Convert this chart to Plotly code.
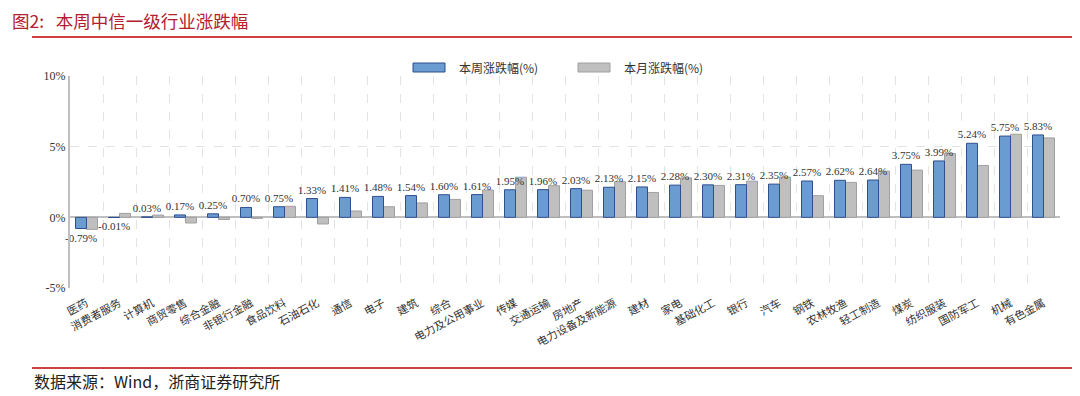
import plotly.graph_objects as go

categories = ["医药", "消费者服务", "计算机", "商贸零售", "综合金融", "非银行金融", "食品饮料", "石油石化",
              "通信", "电子", "建筑", "综合", "电力及公用事业", "传媒", "交通运输", "房地产",
              "电力设备及新能源", "建材", "家电", "基础化工", "银行", "汽车", "钢铁", "农林牧渔",
              "轻工制造", "煤炭", "纺织服装", "国防军工", "机械", "有色金属"]
weekly = [-0.79, -0.01, 0.03, 0.17, 0.25, 0.70, 0.75, 1.33, 1.41, 1.48, 1.54, 1.60, 1.61, 1.95, 1.96,
          2.03, 2.13, 2.15, 2.28, 2.30, 2.31, 2.35, 2.57, 2.62, 2.64, 3.75, 3.99, 5.24, 5.75, 5.83]
monthly = [-0.85, 0.28, 0.16, -0.40, -0.15, -0.07, 0.78, -0.47, 0.45, 0.75, 1.02, 1.27, 1.93, 2.84, 2.24,
           1.92, 2.52, 1.76, 2.79, 2.26, 2.56, 2.85, 1.53, 2.47, 3.27, 3.34, 4.52, 3.67, 5.88, 5.62]
series_names = ["本周涨跌幅(%)", "本月涨跌幅(%)"]
y_ticks = [-5, 0, 5, 10]
title_text = "图2:\u00a0\u00a0\u00a0本周中信一级行业涨跌幅"
source_text = "数据来源：Wind，浙商证券研究所"

CJK = "Noto Sans CJK SC"
SERIF = "Liberation Serif"
BLUE, BLUE_LINE = "#6A9BD1", "#2F4F8F"
GREY, GREY_LINE = "#BFBFBF", "#A0A0A0"

# the page adds an 8px body margin; work in page pixels and convert
OFF = 8
W, H = 1080 - OFF, 396 - OFF
PL, PT, PR, PB = 70, 76, 1060, 288          # plot area in page pixels
L, T = PL - OFF, PT - OFF
R, B = W - (PR - OFF), H - (PB - OFF)
pw, ph = PR - PL, PB - PT


def px_x(x):
    return (x - PL) / pw


def px_y(y):
    return (PB - y) / ph


fig = go.Figure()
# grey drawn first so that weekly labels stay on top
fig.add_trace(go.Bar(
    x=categories, y=monthly, name=series_names[1], showlegend=False,
    width=1/3, offset=0,
    marker=dict(color=GREY, line=dict(color=GREY_LINE, width=1)),
))
fig.add_trace(go.Bar(
    x=categories, y=weekly, name=series_names[0], showlegend=False,
    width=1/3, offset=-1/3,
    marker=dict(color=BLUE, line=dict(color=BLUE_LINE, width=1)),
    text=[f"{v:.2f}%" for v in weekly], textposition="outside",
    textfont=dict(family=SERIF, size=11, color="#333333"),
    constraintext="none", cliponaxis=False,
))

annotations = [
    dict(x=px_x(10), y=px_y(21), xref="paper", yref="paper", text=title_text, showarrow=False,
         xanchor="left", yanchor="middle", font=dict(family=CJK, size=17.5, color="#B22030")),
    dict(x=px_x(32), y=px_y(381), xref="paper", yref="paper", text=source_text, showarrow=False,
         xanchor="left", yanchor="middle", font=dict(family=CJK, size=16, color="#222222")),
]
shapes = [
    dict(type="line", xref="paper", yref="paper", x0=px_x(32), x1=px_x(1080), y0=px_y(37), y1=px_y(37),
         line=dict(color="#C00000", width=1.5)),
    dict(type="line", xref="paper", yref="paper", x0=px_x(32), x1=px_x(1080), y0=px_y(368), y1=px_y(368),
         line=dict(color="#C00000", width=1.5)),
]
# legend drawn as wide swatches like the original
legend_items = [(series_names[0], BLUE, BLUE_LINE, 413), (series_names[1], GREY, GREY_LINE, 578)]
for name, fill, edge, x0 in legend_items:
    shapes.append(dict(type="rect", xref="paper", yref="paper",
                       x0=px_x(x0), x1=px_x(x0 + 32), y0=px_y(72), y1=px_y(63),
                       fillcolor=fill, line=dict(color=edge, width=1)))
    annotations.append(dict(x=px_x(x0 + 44), y=px_y(67.5), xref="paper", yref="paper", text=name,
                            showarrow=False, xanchor="left", yanchor="middle",
                            font=dict(family=CJK, size=12, color="#333333")))

fig.update_layout(
    width=W, height=H,
    margin=dict(l=L, r=R, t=T, b=B),
    paper_bgcolor="white", plot_bgcolor="white",
    barmode="overlay",
    showlegend=False,
    annotations=annotations,
    shapes=shapes,
)
fig.update_xaxes(
    type="category", tickson="boundaries", showgrid=True, griddash="dash", gridcolor="#E3E3E3",
    gridwidth=1, showticklabels=True, tickangle=-28, ticks="", ticklabelstandoff=6,
    tickfont=dict(family=CJK, size=11, color="#333333"),
    showline=False, zeroline=False, range=[-0.5, len(categories) - 0.5],
)
fig.update_yaxes(
    range=[-5, 10], tickvals=y_ticks, ticktext=[f"{v}%" for v in y_ticks],
    showgrid=True, griddash="dash", gridcolor="#E3E3E3", gridwidth=1,
    zeroline=True, zerolinecolor="#BFBFBF", zerolinewidth=2,
    showline=True, linecolor="#BFBFBF", linewidth=2,
    ticks="", tickfont=dict(family=SERIF, size=12, color="#333333"),
)

fig.write_html("out.html")
